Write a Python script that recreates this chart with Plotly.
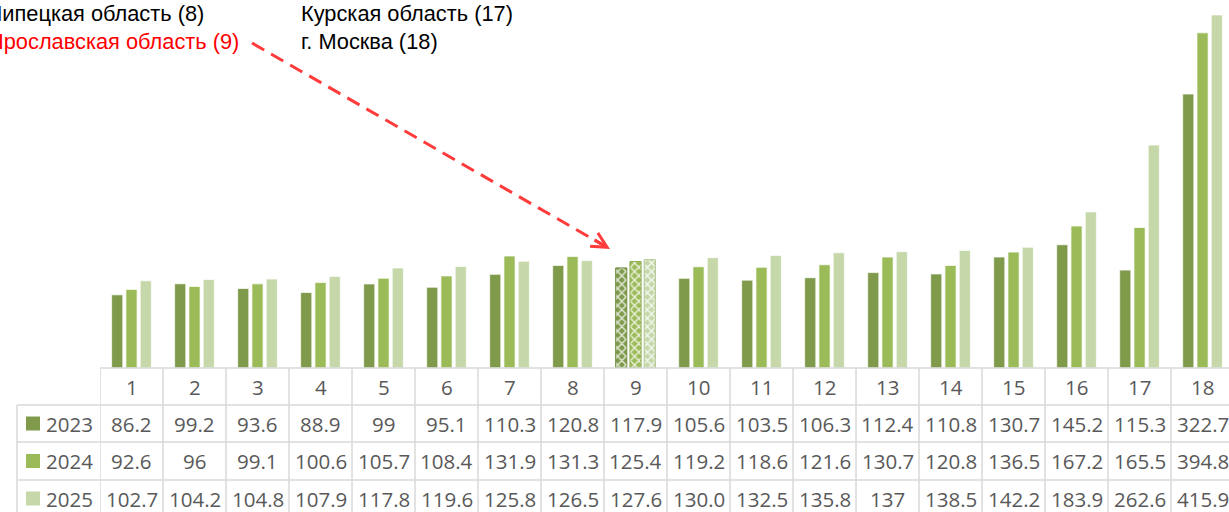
import plotly.graph_objects as go

categories = [str(i) for i in range(1, 19)]
years = ["2023", "2024", "2025"]
# values exactly as printed in the data table
v2023 = ["86.2", "99.2", "93.6", "88.9", "99", "95.1", "110.3", "120.8", "117.9",
         "105.6", "103.5", "106.3", "112.4", "110.8", "130.7", "145.2", "115.3", "322.7"]
v2024 = ["92.6", "96", "99.1", "100.6", "105.7", "108.4", "131.9", "131.3", "125.4",
         "119.2", "118.6", "121.6", "130.7", "120.8", "136.5", "167.2", "165.5", "394.8"]
v2025 = ["102.7", "104.2", "104.8", "107.9", "117.8", "119.6", "125.8", "126.5", "127.6",
         "130.0", "132.5", "135.8", "137", "138.5", "142.2", "183.9", "262.6", "415.9"]
series = [v2023, v2024, v2025]
colors = ["#7F9A4B", "#9BBB59", "#C6D7AA"]
edge_colors = ["#6E8A3C", "#8BAA4C", "#AFC48E"]
highlight_index = 8  # region 9

left_labels = [("Липецкая область (8)", "#000000"), ("Ярославская область (9)", "#FF0000")]
right_labels = ["Курская область (17)", "г. Москва (18)"]

W, H = 1229, 512
ML, MB = 100, 144
PW, PH = W - ML, H - MB
YMAX = 433.5


def px(xp):
    return (xp - ML) / PW


def py(yp):
    return (PH - yp) / PH


fig = go.Figure()
for yr, vals, col, ec in zip(years, series, colors, edge_colors):
    n = len(vals)
    shapes_pat = ["x" if i == highlight_index else "" for i in range(n)]
    line_cols = [ec if i == highlight_index else "rgba(255,255,255,0.7)" for i in range(n)]
    fig.add_trace(go.Bar(
        x=categories, y=[float(v) for v in vals], name=yr,
        marker=dict(color=col, line=dict(color=line_cols, width=1),
                    pattern=dict(shape=shapes_pat, fgcolor="white", fgopacity=0.8,
                                 size=6, solidity=0.4, fillmode="overlay")),
        showlegend=False, hoverinfo="skip"))

grid_col = "#D9D9D9"
shapes = []
row_lines = [368, 405, 442, 480, 517]
# header top line (axis line)
shapes.append(dict(type="line", xref="paper", yref="paper", x0=0, x1=1,
                   y0=py(368), y1=py(368), line=dict(color=grid_col, width=1.5)))
for r in row_lines[1:]:
    shapes.append(dict(type="line", xref="paper", yref="paper", x0=px(17), x1=1,
                       y0=py(r), y1=py(r), line=dict(color=grid_col, width=1.5)))
# vertical column separators
for k in range(len(categories) + 1):
    shapes.append(dict(type="line", xref="x", yref="paper", x0=k - 0.5, x1=k - 0.5,
                       y0=py(368), y1=py(520), line=dict(color=grid_col, width=1.5)))
shapes.append(dict(type="line", xref="paper", yref="paper", x0=px(17), x1=px(17),
                   y0=py(405), y1=py(520), line=dict(color=grid_col, width=1.5)))

annotations = []
row_centers = [423.5, 461, 498.5]
font_tbl = dict(family="Open Sans", size=20.5, color="#595959")
for yr, vals, col, yc in zip(years, series, colors, row_centers):
    shapes.append(dict(type="rect", xref="paper", yref="paper", x0=px(26), x1=px(40),
                       y0=py(yc + 7), y1=py(yc - 7), fillcolor=col, line=dict(width=0)))
    annotations.append(dict(text=yr, xref="paper", yref="paper", x=px(44), y=py(yc),
                            xanchor="left", yanchor="middle", showarrow=False, font=font_tbl))
    for i, v in enumerate(vals):
        annotations.append(dict(text=v, xref="x", yref="paper", x=i, y=py(yc),
                                xanchor="center", yanchor="middle", showarrow=False, font=font_tbl))
for i, c in enumerate(categories):
    annotations.append(dict(text=c, xref="x", yref="paper", x=i, y=py(386.5),
                            xanchor="center", yanchor="middle", showarrow=False, font=font_tbl))

font_lbl = dict(family="Liberation Sans", size=21.8)
annotations.append(dict(text=left_labels[0][0], xref="paper", yref="paper", x=px(206), y=py(14),
                        xanchor="right", yanchor="middle", showarrow=False,
                        font=dict(font_lbl, color=left_labels[0][1])))
annotations.append(dict(text=left_labels[1][0], xref="paper", yref="paper", x=px(241), y=py(41),
                        xanchor="right", yanchor="middle", showarrow=False,
                        font=dict(font_lbl, color=left_labels[1][1])))
for t, yc in zip(right_labels, [14, 41]):
    annotations.append(dict(text=t, xref="paper", yref="paper", x=px(299), y=py(yc),
                            xanchor="left", yanchor="middle", showarrow=False,
                            font=dict(font_lbl, color="#000000")))

# red dashed pointer to region 9
arrow_col = "#FF3B3B"
sx, sy, tx, ty = 252, 43, 610, 249
shapes.append(dict(type="line", xref="paper", yref="paper", x0=px(sx), y0=py(sy),
                   x1=px(tx - 4), y1=py(ty - 2.3), line=dict(color=arrow_col, width=3, dash="14px,8px")))
annotations.append(dict(text="", xref="paper", yref="paper", x=px(tx), y=py(ty),
                        ax=-17, ay=-10, showarrow=True, arrowhead=5, arrowsize=1.0,
                        arrowwidth=3, arrowcolor=arrow_col, standoff=0))

fig.update_layout(
    width=W, height=H, margin=dict(l=ML, r=0, t=0, b=MB),
    paper_bgcolor="white", plot_bgcolor="white",
    barmode="group", bargap=0.32, bargroupgap=0.22,
    xaxis=dict(type="category", range=[-0.5, 17.42], showgrid=False, showticklabels=False,
               zeroline=False, showline=False, ticks=""),
    yaxis=dict(range=[0, YMAX], visible=False),
    shapes=shapes, annotations=annotations,
)
fig.write_html("out.html", config={"displayModeBar": False},
               post_script="document.body.style.margin='0';document.body.style.overflow='hidden';")
